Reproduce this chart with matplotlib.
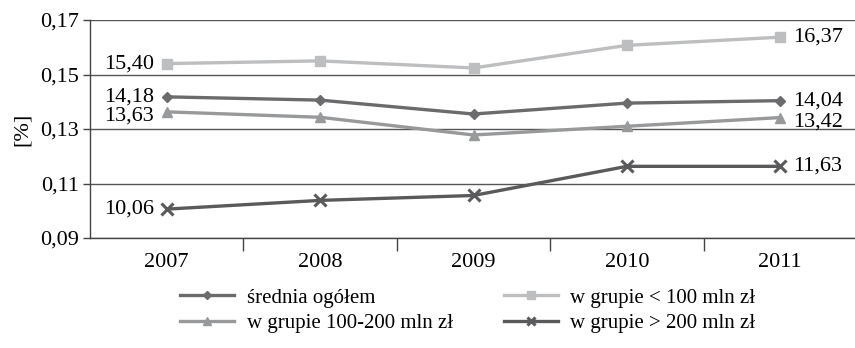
import matplotlib
import matplotlib.pyplot as plt
import numpy as np

matplotlib.use('Agg')

plt.rcParams['font.family'] = ['Liberation Serif', 'DejaVu Serif']

years = ['2007', '2008', '2009', '2010', '2011']

# interest margin shares, as fractions
srednia = [0.1418, 0.1406, 0.1355, 0.1395, 0.1404]
grupa_do_100 = [0.1540, 0.1550, 0.1524, 0.1607, 0.1637]
grupa_100_200 = [0.1363, 0.1343, 0.1278, 0.1310, 0.1342]
grupa_pow_200 = [0.1006, 0.1038, 0.1056, 0.1163, 0.1163]

y_ticks = [0.09, 0.11, 0.13, 0.15, 0.17]

FS = 16

series = [
    (srednia, 'średnia ogółem', '#6b6b6d', 'D', 5.5, 0),
    (grupa_100_200, 'w grupie 100-200 mln zł', '#98999b', '^', 7, -3),
    (grupa_do_100, 'w grupie < 100 mln zł', '#bdbec0', 's', 7, 0),
    (grupa_pow_200, 'w grupie > 200 mln zł', '#5a5a5c', 'x', 8, 0),
]


def pl_fmt(v, nd):
    return f'{v:.{nd}f}'.replace('.', ',')


fig = plt.figure(figsize=(8.55, 3.48), dpi=100)
ax = fig.add_axes([90 / 855, 110 / 348, 767 / 855, 218 / 348])

x = np.arange(len(years))
for vals, label, color, marker, ms, dy in series:
    ax.plot(x, vals, color=color, lw=2.4, marker=marker, ms=ms,
            mew=2.2 if marker == 'x' else 1, label=label, clip_on=False, zorder=3)
    ax.annotate(pl_fmt(vals[0] * 100, 2), (x[0], vals[0]), xytext=(-9, dy),
                textcoords='offset points', ha='right', va='center', fontsize=FS)
    ax.annotate(pl_fmt(vals[-1] * 100, 2), (x[-1], vals[-1]), xytext=(9, dy),
                textcoords='offset points', ha='left', va='center', fontsize=FS)

ax.set_xlim(-0.5, len(years) - 0.5)
ax.set_ylim(0.09, 0.17)
ax.set_yticks(y_ticks)
ax.set_yticklabels([pl_fmt(v, 2) for v in y_ticks], fontsize=FS)
ax.set_xticks(x)
ax.set_xticklabels(years, fontsize=FS)
ax.set_xticks(np.arange(0.5, len(years) - 0.5), minor=True)
ax.tick_params(axis='x', which='major', length=0, pad=11)
ax.tick_params(axis='x', which='minor', length=9, width=1, color='#444444', direction='out')
ax.tick_params(axis='y', length=5, width=1, color='#444444', pad=3)
ax.set_ylabel('[%]', fontsize=FS, labelpad=6)

ax.grid(axis='y', color='#555555', lw=1)
ax.set_axisbelow(True)
for side in ('top', 'right'):
    ax.spines[side].set_visible(False)
for side in ('left', 'bottom'):
    ax.spines[side].set_color('#444444')
    ax.spines[side].set_linewidth(1)

handles, labels = ax.get_legend_handles_labels()
fig.legend(handles, labels, ncol=2, loc='upper left', bbox_to_anchor=(180 / 855, 1 - 288 / 348),
           frameon=False, fontsize=15, handlelength=2.6, columnspacing=2.45,
           labelspacing=0.3, handletextpad=0.6, borderpad=0, borderaxespad=0,
           markerscale=0.8)

plt.savefig('out.png', dpi=100)
plt.close()
